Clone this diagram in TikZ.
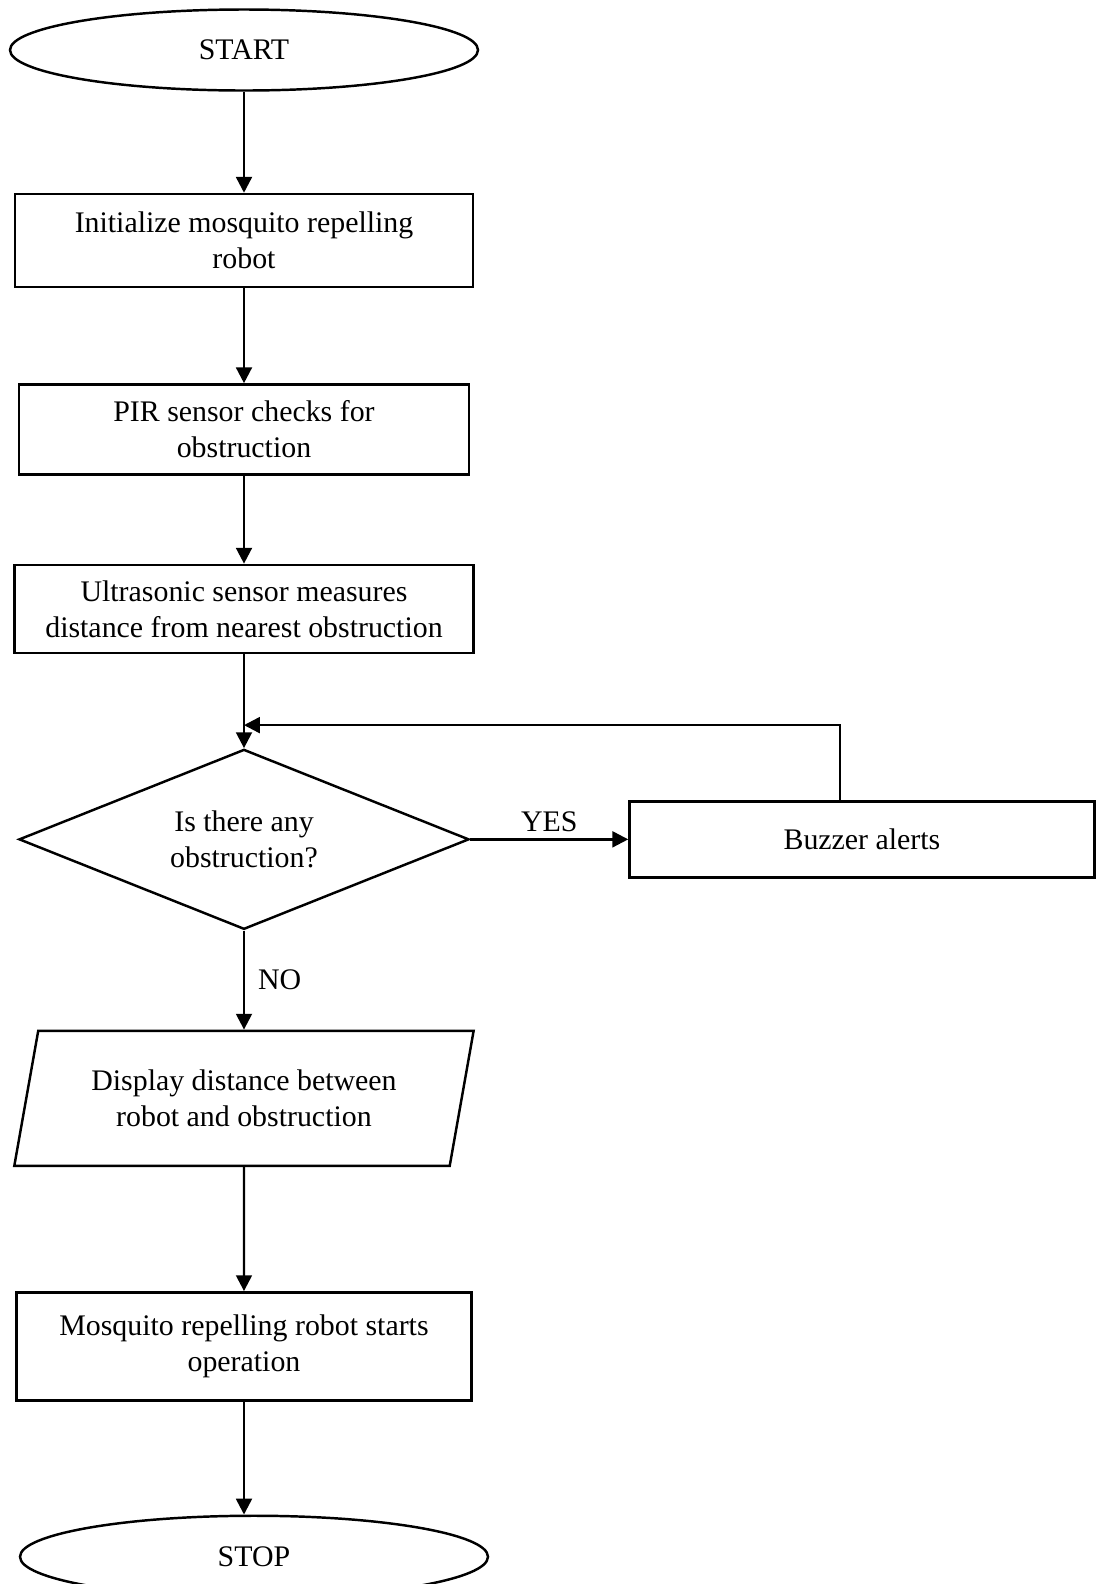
\documentclass[tikz,border=0pt]{standalone}
\usepackage{fontspec}
\setmainfont{Liberation Serif}
\usetikzlibrary{arrows.meta, positioning, shapes.geometric}

\begin{document}
\begin{tikzpicture}[>={Triangle[length=9pt, width=9pt]}, line width=1.4pt,
  every node/.style={font=\fontsize{17}{20.5}\selectfont},
  term/.style={draw, ellipse, minimum width=9.36cm, minimum height=1.62cm},
  procbox/.style={draw, rectangle, align=center, minimum width=9.16cm},
  decision/.style={draw, diamond, aspect=2.5, align=center,
                   minimum width=9cm, minimum height=3.6cm},
  io/.style={draw, trapezium, trapezium left angle=75, trapezium right angle=105,
             trapezium stretches=true, align=center,
             minimum width=9.2cm, minimum height=2.7cm}]
  \useasboundingbox (0,0) rectangle (21.96,-31.68);

  % main flow
  \node[term] (start) at (4.88,-1.0) {START};
  \node[procbox, minimum height=1.86cm, below=2.02cm of start] (init)
    {Initialize mosquito repelling\\robot};
  \node[procbox, minimum width=9cm, minimum height=1.8cm, below=1.9cm of init] (pir)
    {PIR sensor checks for\\obstruction};
  \node[procbox, minimum width=9.18cm, minimum height=1.76cm, below=1.76cm of pir] (ultra)
    {Ultrasonic sensor measures\\distance from nearest obstruction};
  \node[decision, below=1.88cm of ultra] (dec) {Is there any\\obstruction?};
  \node[io, below=1.98cm of dec] (disp) {Display distance between\\robot and obstruction};
  \node[procbox, minimum width=9.1cm, minimum height=2.16cm, below=2.48cm of disp] (oper)
    {Mosquito repelling robot starts\\operation};
  \node[term, minimum height=1.64cm, below=2.26cm of oper, xshift=0.2cm] (stop) {STOP};

  % buzzer branch
  \node[procbox, minimum width=9.3cm, minimum height=1.52cm, right=3.16cm of dec] (buzz)
    {Buzzer alerts};
  \coordinate[above=0.46cm of dec.north] (join);

  % connectors
  \draw[->] (start) -- (init);
  \draw[->] (init) -- (pir);
  \draw[->] (pir) -- (ultra);
  \draw[->] (ultra) -- (dec);
  \draw[->] (dec.east) -- node[above] {YES} (buzz.west);
  \draw[->] ([xshift=-0.44cm]buzz.north) |- (join);
  \draw[->] (dec.south) -- node[right=4pt] {NO} (disp.north);
  \draw[->] (disp) -- (oper);
  \draw[->] (oper.south) -- (oper.south |- stop.north);
\end{tikzpicture}
\end{document}
